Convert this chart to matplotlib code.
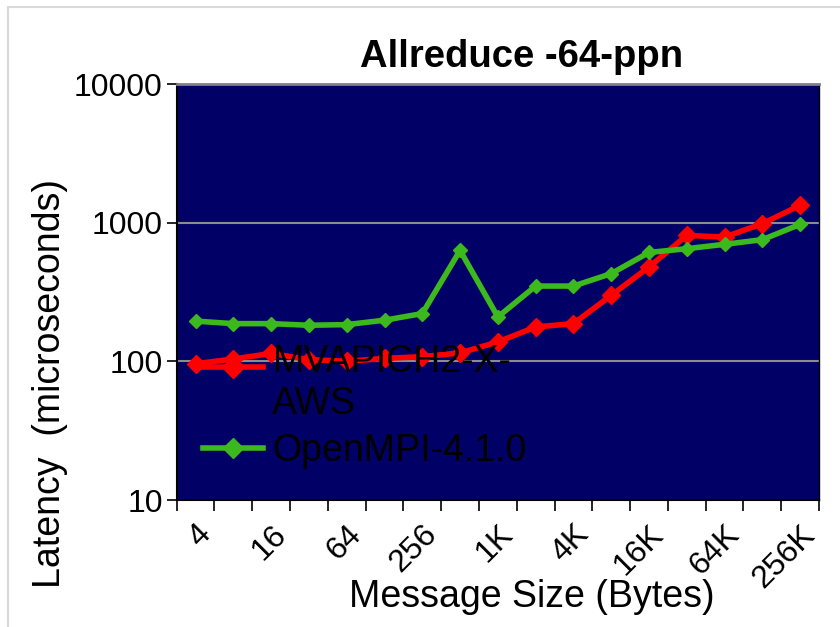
import matplotlib
matplotlib.use('Agg')
import matplotlib.pyplot as plt
from matplotlib.patches import Rectangle
from matplotlib.transforms import Affine2D

plt.rcParams['font.family'] = ['Liberation Sans', 'DejaVu Sans']

# message sizes (every category), labels shown on every other one
sizes = ['4', '8', '16', '32', '64', '128', '256', '512', '1K', '2K', '4K',
         '8K', '16K', '32K', '64K', '128K', '256K']
mvapich = [96, 104, 114, 103, 100, 105, 108, 115, 138, 177, 187, 299, 479,
           809, 787, 984, 1333]
openmpi = [195, 187, 187, 182, 184, 198, 221, 631, 209, 349, 349, 429, 610,
           649, 698, 754, 972]
yticks = [10, 100, 1000, 10000]

W, H = 840, 627
fig = plt.figure(figsize=(W / 100, H / 100), dpi=100)
fig.patch.set_facecolor('white')

# light grey outer chart border (left and top)
fig.add_artist(Rectangle((8 / W, -0.1), 1.2, (H - 7) / H + 0.1, transform=fig.transFigure,
                         fill=False, edgecolor='#d9d9d9', linewidth=1.5))

ax = fig.add_axes([176.7 / W, (H - 500) / H, 642.3 / W, 416 / H])
ax.set_facecolor('#000066')

x = list(range(len(sizes)))
ax.plot(x, mvapich, color='#ff0000', linewidth=4, marker='D', markersize=9,
        label='MVAPICH2-X-\nAWS', zorder=3)
ax.plot(x, openmpi, color='#3cb91c', linewidth=4, marker='D', markersize=7.5,
        label='OpenMPI-4.1.0', zorder=3)

ax.set_yscale('log')
ax.set_ylim(10, 10000)
ax.set_yticks(yticks)
ax.set_yticklabels([str(v) for v in yticks])
ax.yaxis.set_minor_locator(matplotlib.ticker.NullLocator())
ax.tick_params(axis='y', labelsize=23, length=7, width=1.2, pad=3)
for v in [100, 1000]:
    ax.axhline(v, color='#8c8c8c', linewidth=1.5, zorder=1)

ax.set_xlim(-0.5, len(sizes) - 0.5)
ax.set_xticks([i - 0.5 for i in range(len(sizes) + 1)], minor=True)
ax.set_xticks(x[::2])
ax.set_xticklabels(sizes[::2], rotation=45, ha='right', va='top',
                   rotation_mode='anchor')
ax.tick_params(axis='x', which='major', length=0, labelsize=23, pad=14)
ax.tick_params(axis='x', which='minor', length=8, width=1.2)

ax.spines['top'].set_color('#808080')
ax.spines['top'].set_linewidth(2)
ax.spines['left'].set_linewidth(1.5)
ax.spines['bottom'].set_linewidth(1.5)
ax.spines['right'].set_linewidth(1)

ax.set_ylabel('Latency  (microseconds)', fontsize=27)
ax.yaxis.set_label_coords(-0.198, 0.28)
ax.yaxis.label.set_va('center')
ax.set_xlabel('Message Size (Bytes)', fontsize=27)
ax.xaxis.set_label_coords(0.553, -0.233)
ax.xaxis.label.set_va('center')

fig.text(522 / W, 1 - 57 / H, 'Allreduce -64-ppn', fontsize=27.5,
         fontweight='bold', ha='center', va='center')

leg = ax.legend(loc='upper left', bbox_to_anchor=(203 / W, 1 - 344 / H),
                bbox_transform=fig.transFigure, frameon=False, fontsize=27,
                handlelength=1.6, handletextpad=0.25, labelspacing=0.3,
                numpoints=1, borderaxespad=0, borderpad=0, markerscale=1.3)
for t in leg.get_texts():
    t.set_color('black')
# put the red handle level with the first line of its two-line label
red_handle = leg.legend_handles[0]
red_handle.set_transform(red_handle.get_transform() + Affine2D().translate(0, 17))

fig.savefig('out.png', dpi=100)
